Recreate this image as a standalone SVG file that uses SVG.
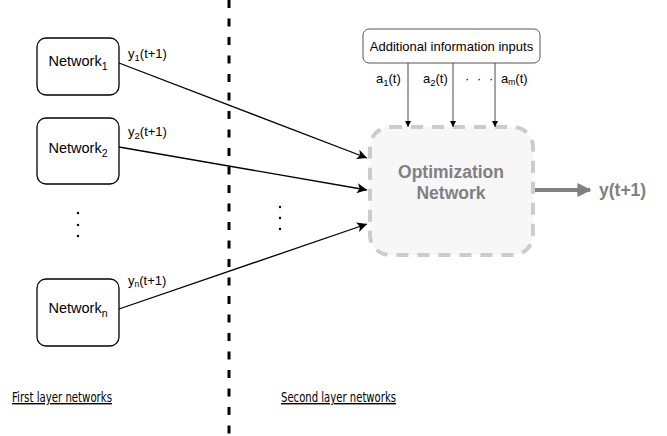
<svg xmlns="http://www.w3.org/2000/svg" width="667" height="436" viewBox="0 0 667 436">
<defs>
<style>
.box{fill:#fff;stroke:#000;stroke-width:1.3}
.t{font-family:"Liberation Sans",Arial,sans-serif;fill:#000}
.conn{stroke:#000;stroke-width:1.3;fill:none}
.thin{stroke:#333;stroke-width:0.9;fill:none}
.lbl{font-family:"Liberation Sans",Arial,sans-serif;font-size:13px;fill:#000}
.und{font-family:"DejaVu Sans",Verdana,sans-serif;font-size:14px;fill:#000;text-decoration:underline}
.bold{font-family:"Liberation Sans",Arial,sans-serif;font-weight:bold;font-size:17.5px;fill:#808080}
</style>
<marker id="ah" viewBox="0 0 10 10" refX="10" refY="5" markerWidth="10" markerHeight="10" markerUnits="userSpaceOnUse" orient="auto">
<path d="M0,0 L10,5 L0,10 L2.5,5 Z" fill="#000"/>
</marker>
<marker id="ahs" viewBox="0 0 10 10" refX="10" refY="5" markerWidth="6" markerHeight="6" markerUnits="userSpaceOnUse" orient="auto">
<path d="M0,0 L10,5 L0,10 Z" fill="#000"/>
</marker>
<marker id="ahg" viewBox="0 0 10 10" refX="9" refY="5" markerWidth="14" markerHeight="14" markerUnits="userSpaceOnUse" orient="auto">
<path d="M0,0 L10,5 L0,10 Z" fill="#808080"/>
</marker>
</defs>
<rect width="667" height="436" fill="#fff"/>

<line x1="229" y1="0" x2="229" y2="436" stroke="#000" stroke-width="3" stroke-dasharray="8,10.5"/>

<g id="network1">
<rect class="box" x="37" y="38" width="82" height="57" rx="9"/>
<text class="t" x="78" y="66" font-size="14.5" text-anchor="middle">Network<tspan font-size="10.5" dy="4">1</tspan></text>
</g>
<g id="network2">
<rect class="box" x="37" y="118" width="82" height="66" rx="9"/>
<text class="t" x="78" y="153" font-size="14.5" text-anchor="middle">Network<tspan font-size="10.5" dy="4">2</tspan></text>
</g>
<g id="networkn">
<rect class="box" x="37" y="279" width="82" height="67" rx="9"/>
<text class="t" x="78" y="313" font-size="14.5" text-anchor="middle">Network<tspan font-size="10.5" dy="4">n</tspan></text>
</g>

<g id="dots-left" fill="#000">
<circle cx="78" cy="213" r="1.2"/>
<circle cx="78" cy="225" r="1.2"/>
<circle cx="78" cy="236" r="1.2"/>
</g>
<g id="dots-mid" fill="#000">
<circle cx="280" cy="207" r="1.2"/>
<circle cx="280" cy="218" r="1.2"/>
<circle cx="280" cy="229" r="1.2"/>
</g>

<g id="info">
<rect x="363" y="29" width="177" height="34" rx="6" fill="#fff" stroke="#555" stroke-width="1"/>
<text class="t" x="451.5" y="51" font-size="13" text-anchor="middle">Additional information inputs</text>
</g>

<g id="optimization">
<rect x="370" y="127" width="163" height="128" rx="20" fill="#f7f7f7" stroke="#cccccc" stroke-width="4" stroke-dasharray="12,9"/>
<text class="bold" x="451" y="178" text-anchor="middle">Optimization</text>
<text class="bold" x="451" y="199" text-anchor="middle">Network</text>
</g>

<g id="output">
<text class="bold" x="599" y="196" font-size="17" fill="#707070">y(t+1)</text>
</g>

<g id="connectors">
<line class="conn" x1="119" y1="63" x2="367" y2="158" marker-end="url(#ah)"/>
<line class="conn" x1="119" y1="147" x2="367" y2="190" marker-end="url(#ah)"/>
<line class="conn" x1="119" y1="309" x2="367" y2="224" marker-end="url(#ah)"/>
<line class="thin" x1="408" y1="63" x2="408" y2="127" marker-end="url(#ahs)"/>
<line class="thin" x1="453" y1="63" x2="453" y2="127" marker-end="url(#ahs)"/>
<line class="thin" x1="495" y1="63" x2="495" y2="127" marker-end="url(#ahs)"/>
<line x1="535" y1="190" x2="590" y2="190" stroke="#808080" stroke-width="4" marker-end="url(#ahg)"/>
</g>

<g id="labels">
<text class="lbl" x="128" y="58">y<tspan font-size="9.5" dy="3">1</tspan><tspan dy="-3">(t+1)</tspan></text>
<text class="lbl" x="128" y="136">y<tspan font-size="9.5" dy="3">2</tspan><tspan dy="-3">(t+1)</tspan></text>
<text class="lbl" x="128" y="285">y<tspan font-size="8.5" dy="2">n</tspan><tspan dy="-2">(t+1)</tspan></text>
<text class="lbl" x="376" y="83">a<tspan font-size="9.5" dy="3">1</tspan><tspan dy="-3">(t)</tspan></text>
<text class="lbl" x="423" y="83">a<tspan font-size="9.5" dy="3">2</tspan><tspan dy="-3">(t)</tspan></text>
<text class="lbl" x="465" y="83" letter-spacing="2">· · ·</text>
<text class="lbl" x="501" y="83">a<tspan font-size="8.5" dy="2">m</tspan><tspan dy="-2">(t)</tspan></text>
<text class="und" x="12" y="402" textLength="100" lengthAdjust="spacingAndGlyphs">First layer networks</text>
<text class="und" x="281" y="402" textLength="115" lengthAdjust="spacingAndGlyphs">Second layer networks</text>
</g>
</svg>
